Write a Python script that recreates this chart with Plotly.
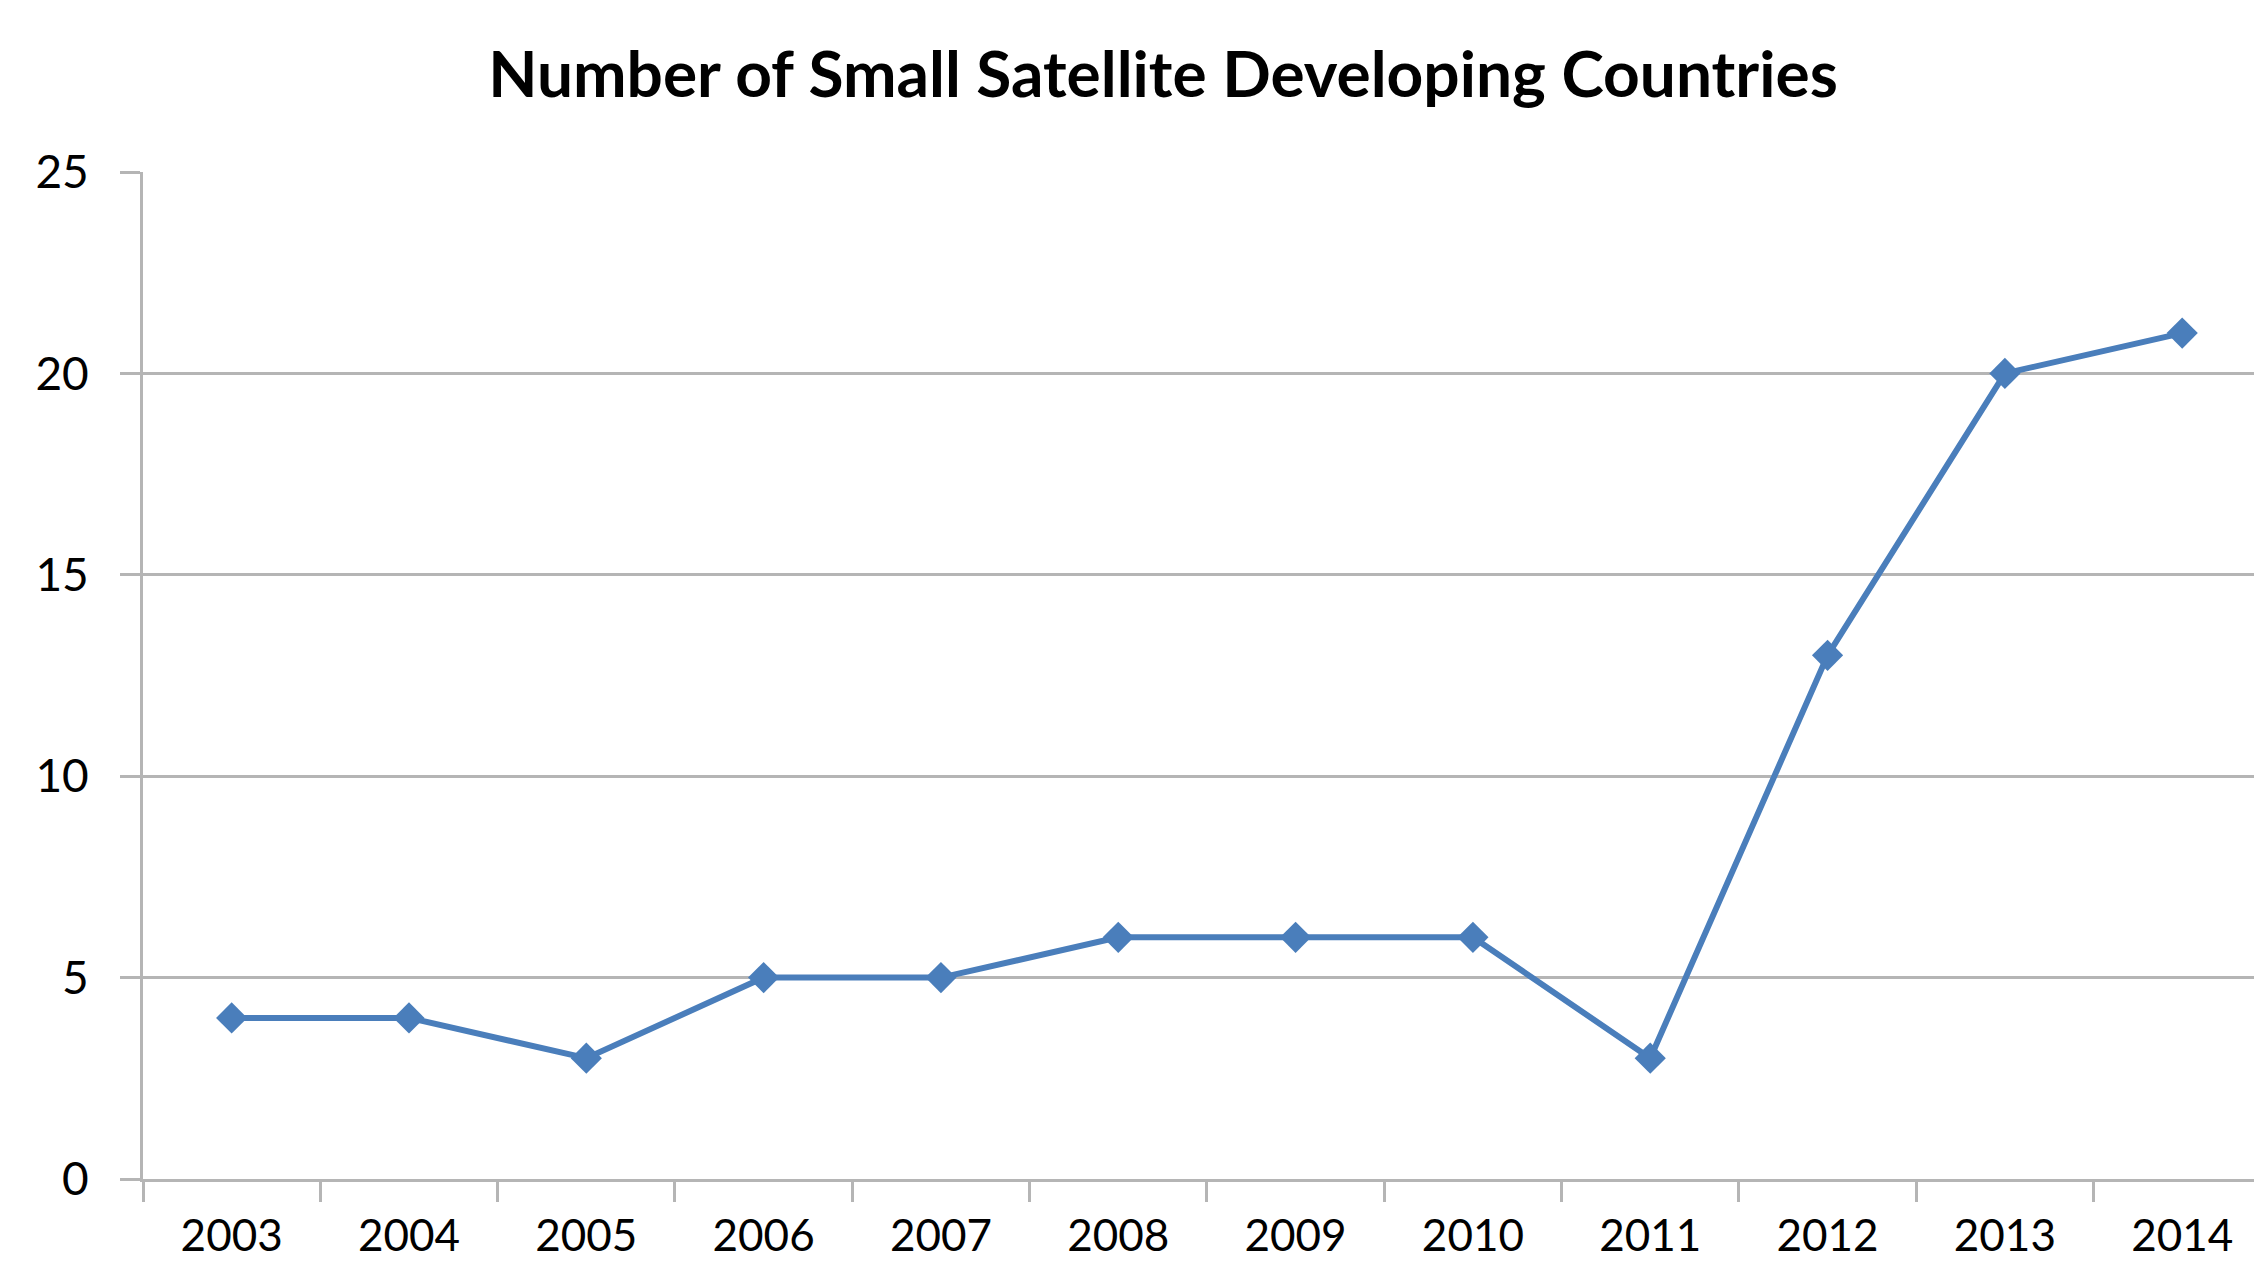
import plotly.graph_objects as go

years = ["2003", "2004", "2005", "2006", "2007", "2008", "2009", "2010", "2011", "2012", "2013", "2014"]
countries = [4, 4, 3, 5, 5, 6, 6, 6, 3, 13, 20, 21]
y_ticks = [0, 5, 10, 15, 20, 25]

title_text = "Number of Small Satellite Developing Countries"

# page body has an 8px margin, so the figure is sized to end at the window edge
W, H = 2254, 1258
FONT = "Lato"
GRID = "#B5B5B5"
LINE = "#4A7EBB"

fig = go.Figure()
fig.add_trace(go.Scatter(
    x=years, y=countries, mode="lines+markers",
    line=dict(color=LINE, width=6),
    marker=dict(symbol="diamond", size=24, color=LINE, line=dict(width=0)),
    showlegend=False, cliponaxis=False,
))

fig.update_layout(
    width=W, height=H,
    paper_bgcolor="white", plot_bgcolor="white",
    margin=dict(l=135, r=0, t=164, b=87, pad=0, autoexpand=False),
    title=dict(text="<b>" + title_text + "</b>", x=1155 / W, xref="container", xanchor="center",
               y=1 - 67 / H, yref="container", yanchor="middle",
               font=dict(family=FONT, size=64, color="#000000")),
    font=dict(family=FONT, color="#000000"),
)
fig.update_xaxes(
    type="category", categoryorder="array", categoryarray=years,
    range=[-0.5, 11.45], automargin=False,
    showgrid=False, zeroline=False,
    showline=True, linecolor=GRID, linewidth=3,
    ticks="outside", tickson="boundaries", ticklen=20, tickwidth=3, tickcolor=GRID,
    tickfont=dict(family=FONT, size=44, color="#000000"),
    ticklabelstandoff=16,
)
fig.update_yaxes(
    range=[0, 25], tickvals=y_ticks, ticktext=[str(v) for v in y_ticks],
    automargin=False,
    showgrid=True, gridcolor=GRID, gridwidth=3,
    zeroline=False,
    showline=True, linecolor=GRID, linewidth=3,
    ticks="outside", ticklen=20, tickwidth=3, tickcolor=GRID,
    tickfont=dict(family=FONT, size=46, color="#000000"),
    ticklabelstandoff=22,
)

fig.write_html("out.html")
